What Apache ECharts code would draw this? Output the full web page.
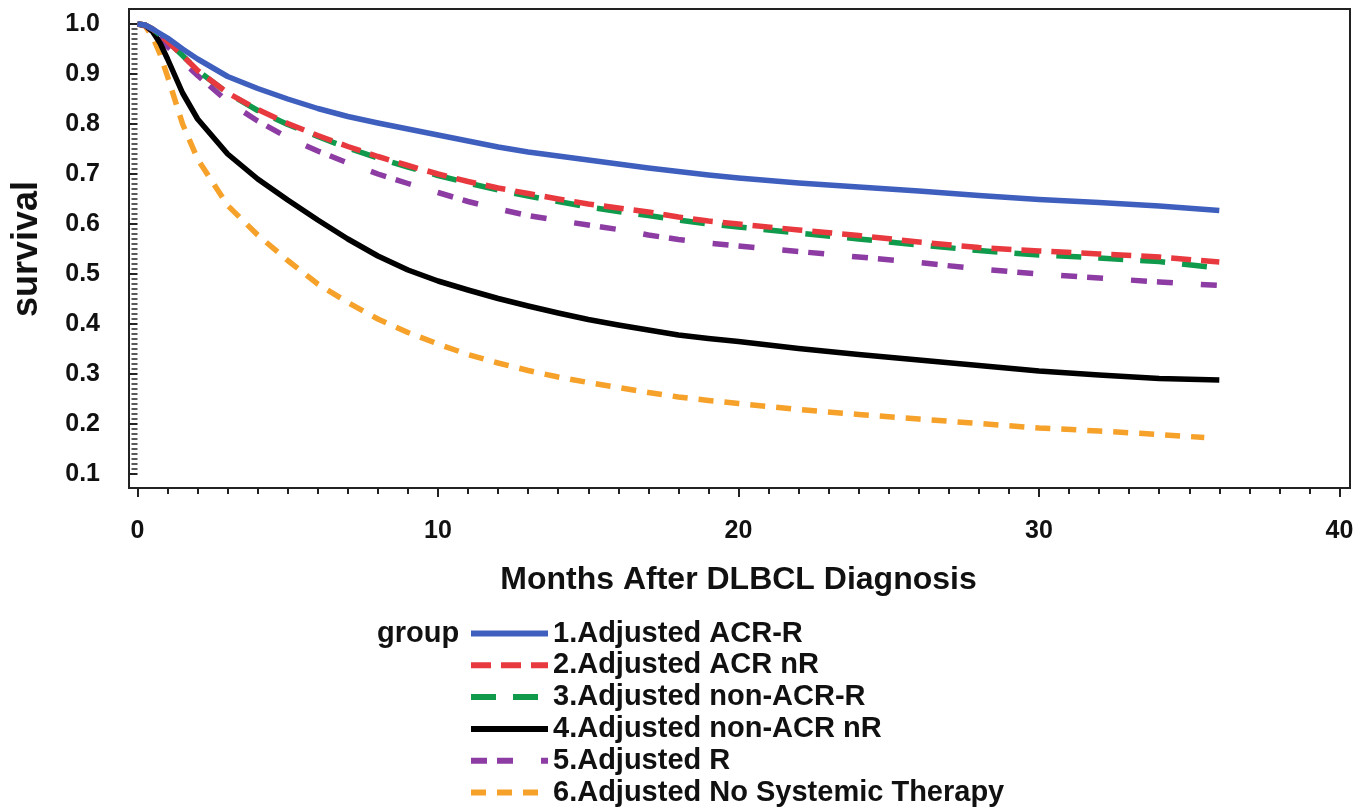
<!DOCTYPE html>
<html>
<head>
<meta charset="utf-8">
<script src="https://cdn.jsdelivr.net/npm/echarts@6/dist/echarts.min.js"></script>
<style>
html,body{margin:0;padding:0;background:#fff;}
#chart{width:1369px;height:811px;}
</style>
</head>
<body>
<div id="chart"></div>
<script>
// ---- data ----
var months = [0, 0.25, 0.5, 0.75, 1, 1.5, 2, 3, 4, 5, 6, 7, 8, 9, 10, 11, 12, 13, 14, 15, 16, 17, 18, 19, 20, 22, 24, 26, 28, 30, 32, 34, 36];
var monthsNoTherapy = [0, 0.25, 0.5, 0.75, 1, 1.5, 2, 3, 4, 5, 6, 7, 8, 9, 10, 11, 12, 13, 14, 15, 16, 17, 18, 19, 20, 22, 24, 26, 28, 30, 32, 34, 35.5];

var acrR      = [1, 0.998, 0.990, 0.981, 0.972, 0.950, 0.930, 0.895, 0.871, 0.850, 0.831, 0.815, 0.802, 0.790, 0.778, 0.766, 0.754, 0.744, 0.736, 0.728, 0.720, 0.712, 0.705, 0.698, 0.692, 0.682, 0.674, 0.666, 0.657, 0.649, 0.643, 0.636, 0.627];
var acrNR     = [1, 0.998, 0.990, 0.978, 0.965, 0.937, 0.907, 0.862, 0.829, 0.801, 0.777, 0.755, 0.735, 0.717, 0.700, 0.685, 0.672, 0.661, 0.650, 0.640, 0.632, 0.624, 0.614, 0.606, 0.600, 0.588, 0.577, 0.564, 0.553, 0.546, 0.540, 0.534, 0.524];
var nonAcrR   = [1, 0.998, 0.990, 0.978, 0.965, 0.937, 0.907, 0.862, 0.827, 0.799, 0.775, 0.752, 0.732, 0.714, 0.697, 0.682, 0.668, 0.656, 0.645, 0.634, 0.625, 0.617, 0.608, 0.600, 0.594, 0.582, 0.570, 0.558, 0.547, 0.538, 0.532, 0.525, 0.512];
var nonAcrNR  = [1, 0.998, 0.985, 0.962, 0.930, 0.862, 0.810, 0.740, 0.690, 0.648, 0.608, 0.570, 0.536, 0.508, 0.486, 0.468, 0.451, 0.436, 0.422, 0.409, 0.398, 0.388, 0.378, 0.371, 0.365, 0.351, 0.339, 0.328, 0.317, 0.306, 0.298, 0.291, 0.288];
var adjR      = [1, 0.997, 0.985, 0.970, 0.955, 0.925, 0.897, 0.845, 0.806, 0.773, 0.746, 0.722, 0.700, 0.681, 0.663, 0.645, 0.630, 0.617, 0.607, 0.598, 0.589, 0.578, 0.569, 0.562, 0.556, 0.545, 0.534, 0.523, 0.510, 0.500, 0.492, 0.484, 0.477];
var noTherapy = [1, 0.996, 0.975, 0.940, 0.895, 0.800, 0.730, 0.637, 0.578, 0.527, 0.480, 0.443, 0.410, 0.383, 0.360, 0.339, 0.322, 0.307, 0.294, 0.283, 0.273, 0.263, 0.254, 0.247, 0.241, 0.229, 0.219, 0.210, 0.201, 0.192, 0.186, 0.179, 0.173];

var groupNames = ['1.Adjusted ACR-R', '2.Adjusted ACR nR', '3.Adjusted non-ACR-R', '4.Adjusted non-ACR nR', '5.Adjusted R', '6.Adjusted No Systemic Therapy'];
var xTitle = 'Months After DLBCL Diagnosis';
var yTitle = 'survival';
var legendTitle = 'group';

function pairs(xs, ys) { return xs.map(function (x, i) { return [x, ys[i]]; }); }

var FONT = '"Liberation Sans", Arial, sans-serif';
var styles = [
  { color: '#3f5fbf', type: 'solid' },
  { color: '#e8393f', type: [20, 10] },
  { color: '#0f9a4c', type: [25, 17] },
  { color: '#000000', type: 'solid' },
  { color: '#8c3ca3', type: [16, 10, 16, 28] },
  { color: '#f5a12a', type: [15, 11] }
];
var dataSets = [pairs(months, acrR), pairs(months, acrNR), pairs(months, nonAcrR), pairs(months, nonAcrNR), pairs(months, adjR), pairs(monthsNoTherapy, noTherapy)];

var series = dataSets.map(function (d, i) {
  return {
    name: groupNames[i], type: 'line', data: d, xAxisIndex: 0, yAxisIndex: 0,
    symbol: 'none', smooth: false, clip: false,
    lineStyle: { color: styles[i].color, width: 5.5, type: styles[i].type, cap: 'butt', join: 'round' },
    itemStyle: { color: styles[i].color },
    z: 10 - i
  };
});

var chart = echarts.init(document.getElementById('chart'), null, { renderer: 'canvas' });
chart.setOption({
  backgroundColor: '#ffffff',
  animation: false,
  grid: [
    { left: 137.5, right: 29.5, top: 24, bottom: 337 },
    { left: 129, right: 19, top: 9, bottom: 323, show: true, borderColor: '#222', borderWidth: 2, backgroundColor: 'transparent', z: 0 }
  ],
  xAxis: [
    { type: 'value', gridIndex: 0, min: 0, max: 40, interval: 10, offset: 14,
      axisLine: { show: false },
      axisTick: { show: true, length: 9, lineStyle: { color: '#222', width: 2 } },
      minorTick: { show: true, splitNumber: 10, length: 6, lineStyle: { color: '#222', width: 2 } },
      splitLine: { show: false },
      axisLabel: { margin: 31, color: '#111', fontSize: 25, fontWeight: 'bold', fontFamily: FONT },
      name: xTitle, nameLocation: 'middle', nameGap: 76,
      nameTextStyle: { color: '#111', fontSize: 32, fontWeight: 'bold', fontFamily: FONT }
    },
    { type: 'value', gridIndex: 1, show: false, min: 0, max: 1 }
  ],
  yAxis: [
    { type: 'value', gridIndex: 0, min: 0.1, max: 1.0, interval: 0.1, offset: 8.5,
      axisLine: { show: false },
      axisTick: { show: true, length: 8, lineStyle: { color: '#222', width: 2 } },
      minorTick: { show: true, splitNumber: 10, length: 6, lineStyle: { color: '#222', width: 1.5 } },
      splitLine: { show: false },
      axisLabel: { margin: 29, color: '#111', fontSize: 25, fontWeight: 'bold', fontFamily: FONT,
        formatter: function (v) { return v.toFixed(1); } },
      name: yTitle, nameLocation: 'middle', nameGap: 84, nameRotate: 90,
      nameTextStyle: { color: '#111', fontSize: 36, fontWeight: 'bold', fontFamily: FONT }
    },
    { type: 'value', gridIndex: 1, show: false, min: 0, max: 1 }
  ],
  legend: {
    orient: 'vertical', left: 468, top: 619, bottom: 0, padding: 0, itemGap: 2.8,
    itemWidth: 77, itemHeight: 14,
    data: groupNames,
    itemStyle: { opacity: 0 },
    lineStyle: { width: 6 },
    textStyle: { color: '#111', fontSize: 29, fontWeight: 'bold', fontFamily: FONT },
    selectedMode: false
  },
  graphic: [
    { type: 'text', left: 377, top: 619,
      style: { text: legendTitle, fill: '#111', font: 'bold 29px ' + FONT } }
  ],
  series: series
});
</script>
</body>
</html>
